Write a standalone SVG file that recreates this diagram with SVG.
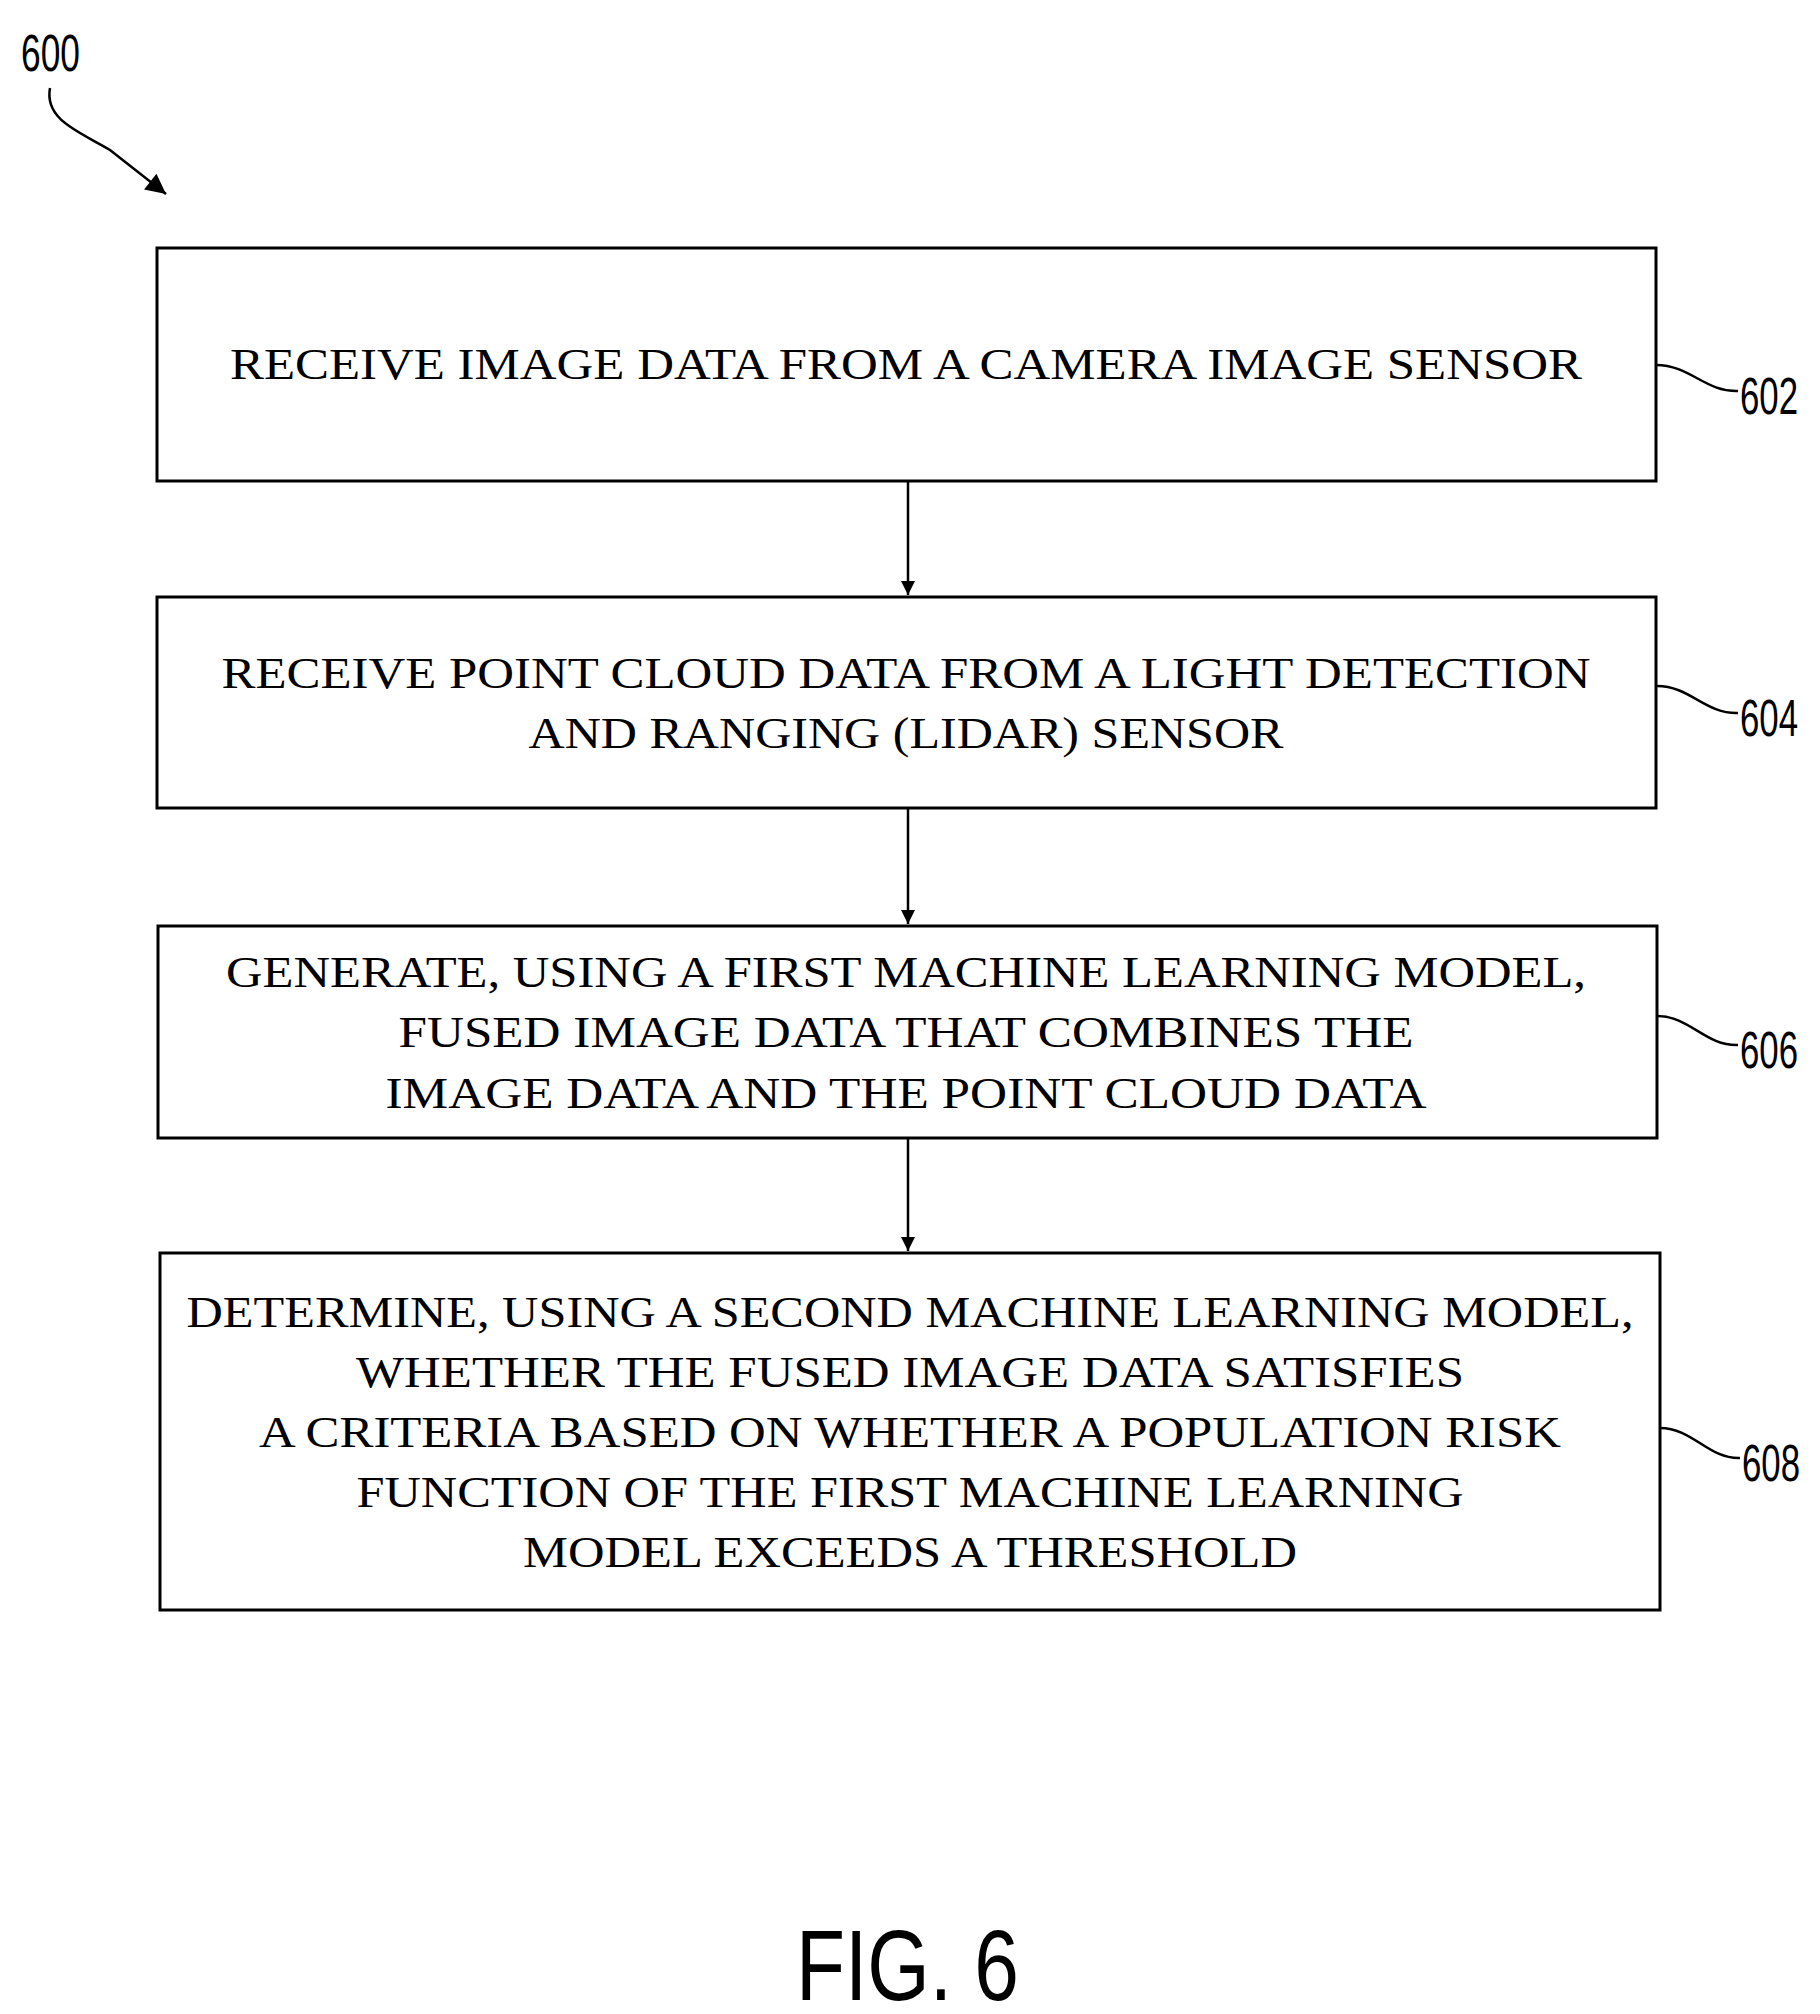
<svg xmlns="http://www.w3.org/2000/svg" width="1820" height="2014" viewBox="0 0 1820 2014">
<style>
.box{fill:#fff;stroke:#000;stroke-width:3}
.t{font-family:"Liberation Serif",serif;font-size:44px;text-anchor:middle;fill:#000}
.lbl{font-family:"Liberation Sans",sans-serif;font-size:52px;fill:#000}
.ln{fill:none;stroke:#000;stroke-width:2.5}
</style>
<defs>
<marker id="ah" viewBox="0 0 10 10" refX="10" refY="5" markerWidth="22" markerHeight="14" markerUnits="userSpaceOnUse" orient="auto"><path d="M0,0 L10,5 L0,10 Z" fill="#000"/></marker>
<marker id="ah2" viewBox="0 0 10 10" refX="10" refY="5" markerWidth="26" markerHeight="20" markerUnits="userSpaceOnUse" orient="auto"><path d="M0,0 L10,5 L0,10 Z" fill="#000"/></marker>
</defs>
<rect width="1820" height="2014" fill="#fff"/>
<g id="ref600">
<text class="lbl" x="21" y="71" textLength="59" lengthAdjust="spacingAndGlyphs">600</text>
<path class="ln" d="M50,88 C44,120 80,132 110,150 L166,194" marker-end="url(#ah2)"/>
</g>
<g id="n602">
<rect class="box" x="157" y="248" width="1499" height="233"/>
<text class="t" x="906" y="379" textLength="1352" lengthAdjust="spacingAndGlyphs">RECEIVE IMAGE DATA FROM A CAMERA IMAGE SENSOR</text>
<path class="ln" d="M1656,365 C1690,365 1705,392 1738,391"/>
<text class="lbl" x="1740" y="414" textLength="58" lengthAdjust="spacingAndGlyphs">602</text>
</g>
<g id="n604">
<rect class="box" x="157" y="597" width="1499" height="211"/>
<text class="t" x="906" y="688" textLength="1369" lengthAdjust="spacingAndGlyphs">RECEIVE POINT CLOUD DATA FROM A LIGHT DETECTION</text>
<text class="t" x="906" y="748" textLength="755" lengthAdjust="spacingAndGlyphs">AND RANGING (LIDAR) SENSOR</text>
<path class="ln" d="M1657,686 C1690,686 1705,714 1738,713"/>
<text class="lbl" x="1740" y="736" textLength="58" lengthAdjust="spacingAndGlyphs">604</text>
</g>
<g id="n606">
<rect class="box" x="158" y="926" width="1499" height="212"/>
<text class="t" x="906" y="987" textLength="1360" lengthAdjust="spacingAndGlyphs">GENERATE, USING A FIRST MACHINE LEARNING MODEL,</text>
<text class="t" x="906" y="1047" textLength="1015" lengthAdjust="spacingAndGlyphs">FUSED IMAGE DATA THAT COMBINES THE</text>
<text class="t" x="906" y="1108" textLength="1041" lengthAdjust="spacingAndGlyphs">IMAGE DATA AND THE POINT CLOUD DATA</text>
<path class="ln" d="M1657,1016 C1690,1016 1705,1046 1738,1045"/>
<text class="lbl" x="1740" y="1068" textLength="58" lengthAdjust="spacingAndGlyphs">606</text>
</g>
<g id="n608">
<rect class="box" x="160" y="1253" width="1500" height="357"/>
<text class="t" x="910" y="1327" textLength="1447" lengthAdjust="spacingAndGlyphs">DETERMINE, USING A SECOND MACHINE LEARNING MODEL,</text>
<text class="t" x="910" y="1387" textLength="1108" lengthAdjust="spacingAndGlyphs">WHETHER THE FUSED IMAGE DATA SATISFIES</text>
<text class="t" x="910" y="1447" textLength="1302" lengthAdjust="spacingAndGlyphs">A CRITERIA BASED ON WHETHER A POPULATION RISK</text>
<text class="t" x="910" y="1507" textLength="1107" lengthAdjust="spacingAndGlyphs">FUNCTION OF THE FIRST MACHINE LEARNING</text>
<text class="t" x="910" y="1567" textLength="774" lengthAdjust="spacingAndGlyphs">MODEL EXCEEDS A THRESHOLD</text>
<path class="ln" d="M1660,1428 C1693,1428 1708,1459 1740,1458"/>
<text class="lbl" x="1742" y="1481" textLength="58" lengthAdjust="spacingAndGlyphs">608</text>
</g>
<g id="connectors">
<line class="ln" x1="908" y1="481" x2="908" y2="595" marker-end="url(#ah)"/>
<line class="ln" x1="908" y1="808" x2="908" y2="924" marker-end="url(#ah)"/>
<line class="ln" x1="908" y1="1138" x2="908" y2="1251" marker-end="url(#ah)"/>
</g>
<text class="lbl" x="796" y="2000" textLength="223" lengthAdjust="spacingAndGlyphs" style="font-size:100px">FIG. 6</text>
</svg>
